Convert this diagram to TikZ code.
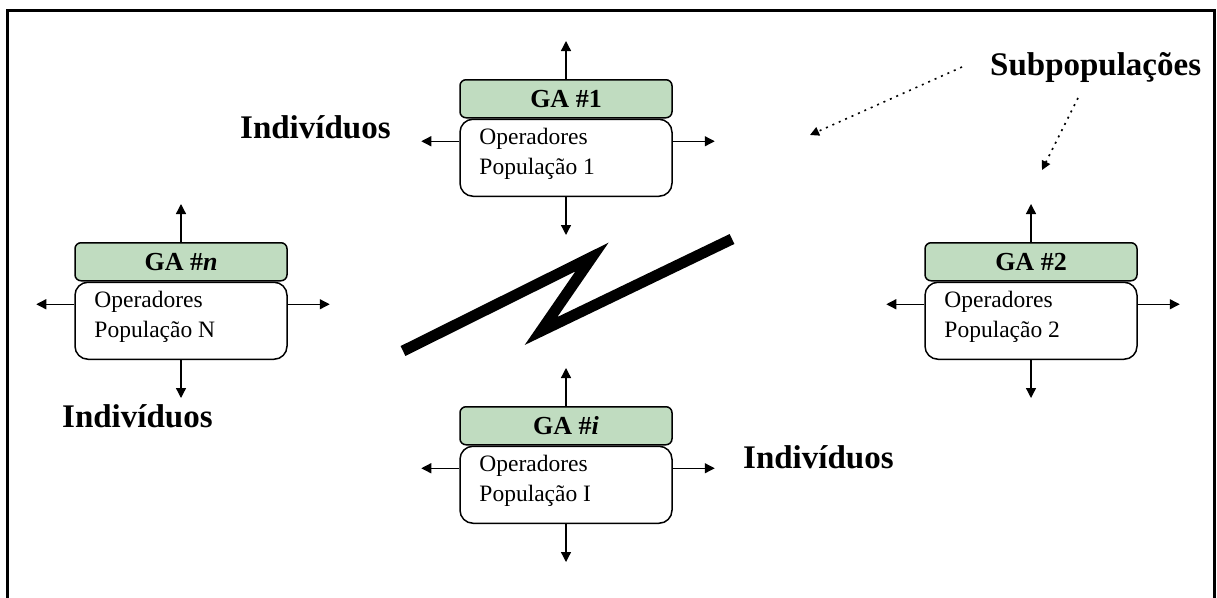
\documentclass[tikz,border=0pt]{standalone}
\usepackage{fontspec}
\setmainfont{Liberation Serif}
\usetikzlibrary{arrows.meta,calc}
\definecolor{gahead}{RGB}{192,220,192}
\tikzset{
  headbox/.style={draw, line width=1.5pt, fill=gahead, rounded corners=6pt,
    minimum width=212pt, minimum height=38pt, inner sep=0pt,
    font=\fontsize{26}{26}\selectfont\bfseries},
  bodybox/.style={draw, line width=1.5pt, fill=white, rounded corners=13pt,
    minimum width=212pt, minimum height=77pt, inner sep=0pt},
  bodytext/.style={anchor=base west, align=left, inner sep=0pt,
    font=\fontsize{23.5}{30}\selectfont},
  bigword/.style={anchor=base west, inner sep=0pt,
    font=\fontsize{33}{33}\selectfont\bfseries},
  flow/.style={line width=1.3pt, -{Triangle[length=10pt,width=10pt]}},
  hint/.style={line width=1.6pt, dash pattern=on 2pt off 5pt,
    -{Triangle[length=9pt,width=9pt]}},
}
% one GA island: name, centre x, top y, header text, population label
\newcommand\gaunit[5]{%
  \node[bodybox, anchor=north] (#1b) at ($(#2,#3)+(0,39.5)$) {};
  \node[headbox, anchor=south] (#1h) at (#1b.north) {#4};
  % base anchor of a two-line node sits on the second line
  \node[bodytext] (#1t) at ($(#1b.north west)+(20,56)$) {Operadores\\#5};
  \coordinate (#1up) at ($(#1h.north)+(0,-38)$);
  \coordinate (#1dn) at ($(#1b.south)+(0,38)$);
  \coordinate (#1lt) at ($(#1b.west)+(-38,-16.5)$);
  \coordinate (#1rt) at ($(#1b.east)+(42,-16.5)$);
  \draw[flow] (#1h.north) -- (#1up);
  \draw[flow] (#1b.south) -- (#1dn);
  \draw[flow] ($(#1b.west)+(0,-16.5)$) -- (#1lt);
  \draw[flow] ($(#1b.east)+(0,-16.5)$) -- (#1rt);
}
\begin{document}
\begin{tikzpicture}[x=1pt,y=-1pt]
  \useasboundingbox (0,0) rectangle (1217,597);
  % outer frame, open at the bottom
  \draw[line width=3.5pt, miter limit=10] (7.5,600) -- (7.5,10.5) -- (1214.5,10.5) -- (1214.5,600);

  \gaunit{g1}{566}{79}{GA \#1}{População 1}
  \gaunit{gn}{181}{242}{GA \#\textit{n}}{População N}
  \gaunit{g2}{1031}{242}{GA \#2}{População 2}
  \gaunit{gi}{566}{406}{GA \#\textit{i}}{População I}

  % migration zigzag
  \draw[line width=11pt, miter limit=10] (403,351) -- (592,257) -- (541,331) -- (732,239);

  \node[bigword] (ind1) at (240,138) {Indivíduos};
  \node[bigword] (ind2) at (62,427) {Indivíduos};
  \node[bigword] (ind3) at (743,468) {Indivíduos};

  \node[bigword] (sub) at (990,75) {Subpopulações};
  \coordinate (s1) at ($(sub.base west)+(-28,-8)$);
  \coordinate (s2) at ($(sub.base west)+(88,23)$);
  \coordinate (t1) at (810,135);
  \coordinate (t2) at (1042,170);
  \draw[hint] (s1) -- (t1);
  \draw[hint] (s2) -- (t2);
\end{tikzpicture}
\end{document}
